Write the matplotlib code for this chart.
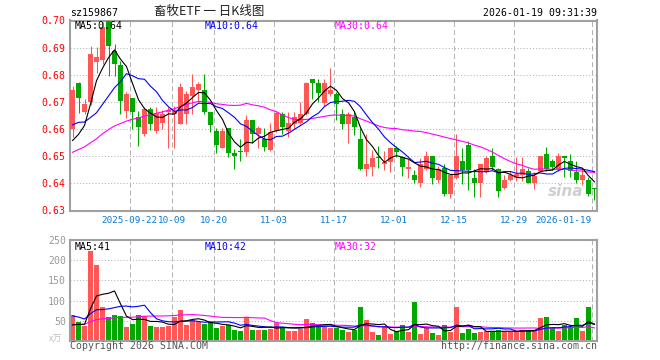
import numpy as np
import pandas as pd
import matplotlib
matplotlib.use("Agg")
import matplotlib.pyplot as plt

code = "sz159867"
title = "畜牧ETF 一 日K线图"
stamp = "2026-01-19 09:31:39"

# daily candles, 2025-09-08 .. 2026-01-19 (88 sessions), volume in 万
opens = [0.6601, 0.6771, 0.6664, 0.6700, 0.6848, 0.6855, 0.7000, 0.6887, 0.6836, 0.6667,
         0.6713, 0.6645, 0.6580, 0.6673, 0.6594, 0.6624, 0.6662, 0.6655, 0.6618, 0.6655,
         0.6722, 0.6743, 0.6743, 0.6664, 0.6593, 0.6532, 0.6603, 0.6510, 0.6516, 0.6514,
         0.6633, 0.6581, 0.6562, 0.6522, 0.6594, 0.6657, 0.6594, 0.6618, 0.6624, 0.6655,
         0.6783, 0.6771, 0.6697, 0.6730, 0.6730, 0.6655, 0.6618, 0.6643, 0.6562, 0.6452,
         0.6460, 0.6498, 0.6473, 0.6477, 0.6532, 0.6498, 0.6452, 0.6432, 0.6402, 0.6452,
         0.6499, 0.6411, 0.6458, 0.6361, 0.6420, 0.6481, 0.6541, 0.6418, 0.6400, 0.6440,
         0.6499, 0.6452, 0.6382, 0.6411, 0.6423, 0.6431, 0.6446, 0.6403, 0.6446, 0.6508,
         0.6481, 0.6454, 0.6499, 0.6481, 0.6440, 0.6411, 0.6411, 0.6382]
closes = [0.6744, 0.6713, 0.6694, 0.6875, 0.6865, 0.6975, 0.6906, 0.6838, 0.6703, 0.6730,
          0.6664, 0.6606, 0.6673, 0.6620, 0.6660, 0.6655, 0.6672, 0.6668, 0.6755, 0.6730,
          0.6755, 0.6765, 0.6664, 0.6615, 0.6541, 0.6593, 0.6513, 0.6502, 0.6516, 0.6633,
          0.6581, 0.6603, 0.6534, 0.6590, 0.6661, 0.6606, 0.6624, 0.6643, 0.6655, 0.6771,
          0.6771, 0.6734, 0.6771, 0.6743, 0.6694, 0.6620, 0.6657, 0.6606, 0.6452, 0.6470,
          0.6493, 0.6493, 0.6480, 0.6532, 0.6514, 0.6460, 0.6460, 0.6413, 0.6470, 0.6499,
          0.6421, 0.6452, 0.6361, 0.6431, 0.6499, 0.6450, 0.6450, 0.6400, 0.6470, 0.6493,
          0.6459, 0.6372, 0.6411, 0.6431, 0.6436, 0.6452, 0.6403, 0.6428, 0.6499, 0.6454,
          0.6459, 0.6499, 0.6493, 0.6446, 0.6411, 0.6431, 0.6360, 0.6379]
highs = [0.6760, 0.6772, 0.6710, 0.6906, 0.6904, 0.6995, 0.7000, 0.6914, 0.6850, 0.6735,
         0.6716, 0.6667, 0.6680, 0.6680, 0.6680, 0.6670, 0.6680, 0.6685, 0.6771, 0.6740,
         0.6804, 0.6775, 0.6804, 0.6664, 0.6603, 0.6603, 0.6605, 0.6526, 0.6562, 0.6650,
         0.6635, 0.6610, 0.6603, 0.6624, 0.6668, 0.6664, 0.6664, 0.6664, 0.6700, 0.6775,
         0.6785, 0.6783, 0.6783, 0.6824, 0.6735, 0.6673, 0.6664, 0.6664, 0.6603, 0.6580,
         0.6522, 0.6538, 0.6520, 0.6535, 0.6538, 0.6500, 0.6490, 0.6448, 0.6495, 0.6520,
         0.6500, 0.6464, 0.6470, 0.6431, 0.6583, 0.6532, 0.6555, 0.6452, 0.6470, 0.6502,
         0.6532, 0.6458, 0.6431, 0.6446, 0.6498, 0.6498, 0.6456, 0.6440, 0.6499, 0.6533,
         0.6491, 0.6510, 0.6499, 0.6508, 0.6481, 0.6456, 0.6425, 0.6382]
lows = [0.6570, 0.6660, 0.6655, 0.6690, 0.6807, 0.6840, 0.6794, 0.6795, 0.6655, 0.6640,
        0.6600, 0.6538, 0.6575, 0.6595, 0.6585, 0.6600, 0.6532, 0.6530, 0.6618, 0.6618,
        0.6655, 0.6700, 0.6655, 0.6590, 0.6510, 0.6532, 0.6498, 0.6452, 0.6483, 0.6500,
        0.6550, 0.6532, 0.6520, 0.6520, 0.6590, 0.6581, 0.6570, 0.6600, 0.6620, 0.6650,
        0.6710, 0.6700, 0.6685, 0.6720, 0.6633, 0.6600, 0.6550, 0.6579, 0.6450, 0.6428,
        0.6428, 0.6456, 0.6450, 0.6440, 0.6497, 0.6428, 0.6420, 0.6400, 0.6387, 0.6450,
        0.6397, 0.6400, 0.6355, 0.6346, 0.6415, 0.6397, 0.6375, 0.6348, 0.6348, 0.6437,
        0.6450, 0.6348, 0.6378, 0.6408, 0.6410, 0.6410, 0.6403, 0.6380, 0.6440, 0.6446,
        0.6450, 0.6446, 0.6424, 0.6424, 0.6403, 0.6395, 0.6355, 0.6340]
volumes = [64, 47.5, 36, 222, 187.5, 85, 60, 65, 62.5, 35,
           43, 64, 62.5, 37.5, 35, 35, 37.5, 60, 77.5, 40,
           52, 46, 43, 46, 33, 37.5, 40, 27.5, 25, 60,
           28, 28, 28, 30, 45, 35, 25, 25, 30, 55,
           45, 37.5, 35, 33, 31, 27.5, 22.5, 27.5, 85, 52.5,
           22.5, 15, 35, 17.5, 25, 40, 22.5, 97.5, 17.5, 32.5,
           20, 15, 40, 22.5, 85, 20, 30, 20, 22.5, 25,
           22.5, 28, 22.5, 22.5, 25, 27.5, 27.5, 27.5, 57.5, 60,
           32.5, 25, 40, 35, 57.5, 25, 85, 2.5]

# sessions before the window, only used to seed the moving averages
prev_close = [0.641, 0.640, 0.642, 0.643, 0.641, 0.644, 0.645, 0.643, 0.646, 0.647,
              0.645, 0.648, 0.647, 0.649, 0.650, 0.648, 0.651, 0.650, 0.652, 0.656,
              0.662, 0.668, 0.671, 0.669, 0.6665, 0.660, 0.653, 0.648, 0.6435]
prev_vol = [25, 22, 28, 30, 24, 26, 31, 27, 29, 33, 28, 25, 30, 32, 27, 29, 35, 31, 34, 34,
            75, 85, 90, 88, 82, 42, 35, 30, 29]

tick_idx = [10, 17, 24, 34, 44, 54, 64, 74, 87]
tick_labels = ["2025-09-22", "10-09", "10-20", "11-03", "11-17",
               "12-01", "12-15", "12-29", "2026-01-19"]
price_ticks = [0.63, 0.64, 0.65, 0.66, 0.67, 0.68, 0.69, 0.70]
vol_ticks = [50, 100, 150, 200, 250]

RED = "#ff5656"
GREEN = "#00a800"
GRID = "#b4b4b4"
BORDER = "#a0a0a0"
BLUE = "#0000ff"
MAG = "#ff00ff"
XLAB = "#0a78d2"
MONO = "DejaVu Sans Mono"
CJK = ["Noto Sans CJK SC", "DejaVu Sans"]
FS = 7.1

W, H = 660, 360


def box(l, t, r, b):
    return [l / W, 1 - b / H, (r - l) / W, (b - t) / H]


def ptext(x, y, s, **kw):
    kw.setdefault("family", MONO)
    kw.setdefault("fontsize", FS)
    kw.setdefault("va", "center")
    fig.text(x / W, 1 - y / H, s, **kw)


def mov(prev, cur, n):
    s = pd.Series(list(prev) + list(cur), dtype=float)
    return s.rolling(n).mean().values[len(prev):]


o = np.array(opens); c = np.array(closes)
hi = np.array(highs); lo = np.array(lows)
vol = np.array(volumes)
n = len(c)
x = np.arange(n)
colors = np.where(c > o, RED, GREEN)

fig = plt.figure(figsize=(W / 100, H / 100), dpi=100)
axp = fig.add_axes(box(70, 20.5, 597, 210.5))
axv = fig.add_axes(box(70, 240, 597, 341))

for ax in (axp, axv):
    ax.set_xlim(-0.417, n - 0.58)
    for sp in ax.spines.values():
        sp.set_color(BORDER)
        sp.set_linewidth(1.5)
    for i in tick_idx:
        ax.axvline(i - 0.42, color=GRID, lw=0.75, ls=(0, (4.8, 2.9)), zorder=0)
    ax.tick_params(length=0)

# price panel
for p in price_ticks[1:-1]:
    axp.axhline(p, color=GRID, lw=0.75, ls=(0, (1, 2)), zorder=0)
axp.vlines(x, lo, hi, colors=colors, lw=0.75, zorder=2)
body = np.maximum(np.abs(c - o), 0.0004)
axp.bar(x, body, bottom=np.minimum(o, c), width=0.83, color=colors, lw=0, zorder=3)
ma5 = mov(prev_close, c, 5)
ma10 = mov(prev_close, c, 10)
ma30 = mov(prev_close, c, 30)
axp.plot(x, ma30, color=MAG, lw=0.8, zorder=4)
axp.plot(x, ma10, color=BLUE, lw=0.8, zorder=4)
axp.plot(x, ma5, color="black", lw=0.8, zorder=4)
axp.set_ylim(0.63, 0.70)
axp.set_yticks(price_ticks)
axp.set_yticklabels([f"{p:.2f}" for p in price_ticks], family=MONO, fontsize=FS, color="red")
axp.tick_params(axis="y", pad=3)
axp.set_xticks([i - 0.42 for i in tick_idx])
axp.set_xticklabels(tick_labels, family=MONO, fontsize=6.7, color=XLAB)
axp.get_xticklabels()[-1].set_ha("right")
axp.tick_params(axis="x", pad=4)
axp.text(0.975, 0.06, "sina", transform=axp.transAxes, ha="right", va="bottom",
         fontsize=11, fontweight="bold", style="italic", color="#cfcfcf", zorder=1)

# volume panel
for v in vol_ticks[:-1]:
    axv.axhline(v, color=GRID, lw=0.75, ls=(0, (1, 2)), zorder=0)
axv.bar(x, vol, width=0.83, color=colors, lw=0, zorder=2)
vma5 = mov(prev_vol, vol, 5)
vma10 = mov(prev_vol, vol, 10)
vma30 = mov(prev_vol, vol, 30)
axv.plot(x, vma30, color=MAG, lw=0.8, zorder=4)
axv.plot(x, vma10, color=BLUE, lw=0.8, zorder=4)
axv.plot(x, vma5, color="black", lw=0.8, zorder=4)
axv.set_ylim(0, 250)
axv.set_yticks(vol_ticks)
axv.set_yticklabels([str(v) for v in vol_ticks], family=MONO, fontsize=FS, color="#999999")
axv.tick_params(axis="y", pad=3)
axv.set_xticks([])

# header / labels
ptext(70, 13, code, color="black")
ptext(209, 11.5, title, family=CJK, fontsize=9, ha="center", color="#222222")
ptext(597, 13, stamp, ha="right", color="black")

ptext(75, 26, f"MA5:{ma5[-1]:.2f}", color="black")
ptext(205, 26, f"MA10:{ma10[-1]:.2f}", color=BLUE)
ptext(335, 26, f"MA30:{ma30[-1]:.2f}", color=MAG)
ptext(75, 247, f"MA5:{vma5[-1]:.0f}", color="black")
ptext(205, 247, f"MA10:{vma10[-1]:.0f}", color=BLUE)
ptext(335, 247, f"MA30:{vma30[-1]:.0f}", color=MAG)

ptext(56, 339, "x万", family=CJK, fontsize=6.5, ha="center", color="#c0c0c0")
ptext(70, 346, "Copyright 2026 SINA.COM", color="#555555")
ptext(597, 346, "http://finance.sina.com.cn", ha="right", color="#555555")

fig.savefig("out.png", dpi=100)
